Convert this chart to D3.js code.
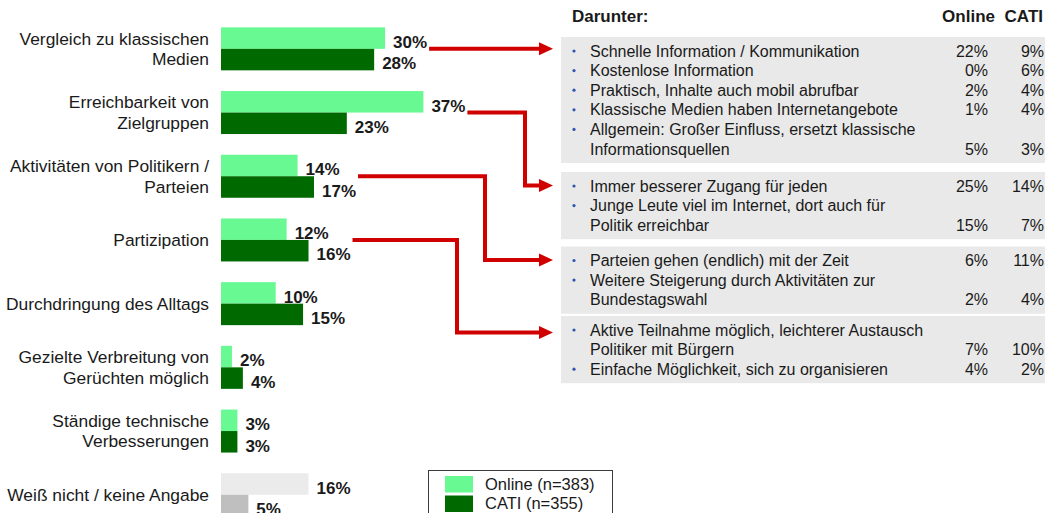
<!DOCTYPE html>
<html>
<head>
<meta charset="utf-8">
<title>Gruende Internet Politik</title>
<script src="https://d3js.org/d3.v7.min.js"></script>
<style>
  body { margin: 0; background: #fff; }
  text { font-family: "Liberation Sans", Arial, sans-serif; }
</style>
</head>
<body>
<svg id="chart" width="1045" height="513"></svg>
<script>
// --- data ---
const categories = [
  "Vergleich zu klassischen\nMedien",
  "Erreichbarkeit von\nZielgruppen",
  "Aktivitäten von Politikern /\nParteien",
  "Partizipation",
  "Durchdringung des Alltags",
  "Gezielte Verbreitung von\nGerüchten möglich",
  "Ständige technische\nVerbesserungen",
  "Weiß nicht / keine Angabe"
];
const online = [30, 37, 14, 12, 10, 2, 3, 16];
const cati = [28, 23, 17, 16, 15, 4, 3, 5];
const seriesNames = ["Online (n=383)", "CATI (n=355)"];

// detail panels ("Darunter"), each linked to a category
const panelCategory = [0, 1, 2, 3];
const panel1 = [
  { text: ["Schnelle Information / Kommunikation"], online: 22, cati: 9 },
  { text: ["Kostenlose Information"], online: 0, cati: 6 },
  { text: ["Praktisch, Inhalte auch mobil abrufbar"], online: 2, cati: 4 },
  { text: ["Klassische Medien haben Internetangebote"], online: 1, cati: 4 },
  { text: ["Allgemein: Großer Einfluss, ersetzt klassische", "Informationsquellen"], online: 5, cati: 3 }
];
const panel2 = [
  { text: ["Immer besserer Zugang für jeden"], online: 25, cati: 14 },
  { text: ["Junge Leute viel im Internet, dort auch für", "Politik erreichbar"], online: 15, cati: 7 }
];
const panel3 = [
  { text: ["Parteien gehen (endlich) mit der Zeit"], online: 6, cati: 11 },
  { text: ["Weitere Steigerung durch Aktivitäten zur", "Bundestagswahl"], online: 2, cati: 4 }
];
const panel4 = [
  { text: ["Aktive Teilnahme möglich, leichterer Austausch", "Politiker mit Bürgern"], online: 7, cati: 10 },
  { text: ["Einfache Möglichkeit, sich zu organisieren"], online: 4, cati: 2 }
];
const panels = [panel1, panel2, panel3, panel4];

// --- layout / styles ---
const colOnline = "#68f993", colCati = "#006a00";
const colOnlineGrey = "#ebebeb", colCatiGrey = "#bfbfbf";
const red = "#d10000";

const svg = d3.select("#chart");

const x = d3.scaleLinear().domain([0, 100]).range([221, 221 + 547]);
const y = d3.scaleBand()
  .domain(categories)
  .range([17, 17 + 8 * 63.7])
  .paddingInner(0.325)
  .paddingOuter(0.1625);
const ySub = d3.scaleBand().domain(["online", "cati"]).range([0, y.bandwidth()]);

const rows = categories.map((c, i) => ({ cat: c, i: i, online: online[i], cati: cati[i] }));
const isGrey = i => i === categories.length - 1;

// category labels
const labels = svg.append("g").attr("font-size", 17.4).attr("fill", "#1a1a1a").attr("text-anchor", "end");
rows.forEach(r => {
  const lines = r.cat.split("\n");
  const cy = y(r.cat) + y.bandwidth() / 2;
  lines.forEach((l, k) => {
    labels.append("text")
      .attr("x", 209)
      .attr("y", cy + (k - (lines.length - 1) / 2) * 20.5)
      .attr("dy", "0.35em")
      .text(l);
  });
});

// bars
["online", "cati"].forEach(s => {
  svg.append("g").selectAll("rect")
    .data(rows)
    .join("rect")
    .attr("x", x(0))
    .attr("y", d => y(d.cat) + ySub(s))
    .attr("width", d => x(d[s]) - x(0))
    .attr("height", ySub.bandwidth())
    .attr("fill", d => isGrey(d.i) ? (s === "online" ? colOnlineGrey : colCatiGrey) : (s === "online" ? colOnline : colCati));

  svg.append("g").selectAll("text")
    .data(rows)
    .join("text")
    .attr("x", d => x(d[s]) + 8)
    .attr("y", d => y(d.cat) + ySub(s) + ySub.bandwidth() - 1)
    .attr("font-size", 17)
    .attr("font-weight", "bold")
    .attr("fill", "#1a1a1a")
    .text(d => d[s] + "%");
});

// detail panels
const panelLeft = 561, lineH = 19.6;
const panelTops = [37, 172, 246.5, 316];
const bulletX = 574, textX = 590, onlineX = 988, catiX = 1044;

svg.append("text").attr("x", 572).attr("y", 21.5)
  .attr("font-size", 17).attr("font-weight", "bold").attr("fill", "#1a1a1a").text("Darunter:");
svg.append("text").attr("x", 995).attr("y", 21.5).attr("text-anchor", "end")
  .attr("font-size", 17).attr("font-weight", "bold").attr("fill", "#1a1a1a").text("Online");
svg.append("text").attr("x", 1043).attr("y", 21.5).attr("text-anchor", "end")
  .attr("font-size", 17).attr("font-weight", "bold").attr("fill", "#1a1a1a").text("CATI");

const firstLineY = [];
panels.forEach((items, p) => {
  const nLines = d3.sum(items, d => d.text.length);
  const top = panelTops[p];
  const g = svg.append("g");
  g.append("rect")
    .attr("x", panelLeft).attr("y", top)
    .attr("width", 1045 - panelLeft + 5)
    .attr("height", 28 + (nLines - 1) * lineH)
    .attr("fill", "#e9e9e9");
  let ly = top + 14;
  firstLineY.push(ly);
  items.forEach(it => {
    g.append("circle").attr("cx", bulletX).attr("cy", ly).attr("r", 1.6).attr("fill", "#2f55b0");
    it.text.forEach((t, k) => {
      g.append("text").attr("x", textX).attr("y", ly).attr("dy", "0.35em")
        .attr("font-size", 16).attr("fill", "#1a1a1a").text(t);
      if (k === it.text.length - 1) {
        g.append("text").attr("x", onlineX).attr("y", ly).attr("dy", "0.35em")
          .attr("text-anchor", "end").attr("font-size", 16).attr("fill", "#1a1a1a").text(it.online + "%");
        g.append("text").attr("x", catiX).attr("y", ly).attr("dy", "0.35em")
          .attr("text-anchor", "end").attr("font-size", 16).attr("fill", "#1a1a1a").text(it.cati + "%");
      }
      ly += lineH;
    });
  });
});

// connector arrows
const elbowX = [null, 525, 485, 457];
const arrowShift = [0, 0, 0, 3];
const tipX = 553, headLen = 13, headHalf = 6.5;
panelCategory.forEach((ci, p) => {
  const c = categories[ci];
  const y0 = y(c) + y.bandwidth() / 2;
  const x0 = x(Math.max(online[ci], cati[ci])) + 44;
  const y1 = firstLineY[p] - 0.5 + arrowShift[p];
  const pts = elbowX[p] === null
    ? [[x0, y0], [tipX - headLen, y0]]
    : [[x0, y0], [elbowX[p], y0], [elbowX[p], y1], [tipX - headLen, y1]];
  const end = pts[pts.length - 1][1];
  svg.append("path")
    .attr("d", d3.line()(pts))
    .attr("fill", "none").attr("stroke", red).attr("stroke-width", 4)
    .attr("stroke-linejoin", "miter");
  svg.append("path")
    .attr("d", d3.line()([[tipX - headLen - 1, end - headHalf], [tipX, end], [tipX - headLen - 1, end + headHalf]]) + "Z")
    .attr("fill", red);
});

// legend
const lg = svg.append("g");
lg.append("rect").attr("x", 428.5).attr("y", 470.5).attr("width", 184).attr("height", 50)
  .attr("fill", "#fff").attr("stroke", "#3a3a3a").attr("stroke-width", 1);
[colOnline, colCati].forEach((col, k) => {
  lg.append("rect").attr("x", 445).attr("y", 476 + k * 19.5).attr("width", 28).attr("height", 16.5).attr("fill", col);
  lg.append("text").attr("x", 485).attr("y", 484 + k * 19.5).attr("dy", "0.35em")
    .attr("font-size", 16.5).attr("fill", "#1a1a1a").text(seriesNames[k]);
});
</script>
</body>
</html>
